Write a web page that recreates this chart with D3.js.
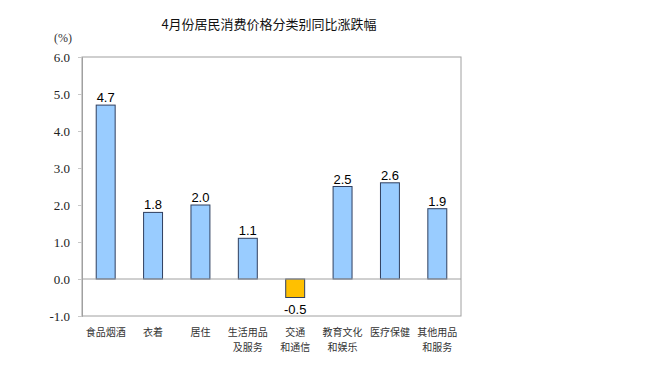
<!DOCTYPE html>
<html>
<head>
<meta charset="utf-8">
<script src="https://cdn.jsdelivr.net/npm/d3@7"></script>
<style>
  body { margin: 0; background: #fff; }
</style>
</head>
<body>
<div id="chart"></div>
<script>
// data
const categories = ["食品烟酒", "衣着", "居住", "生活用品\n及服务", "交通\n和通信", "教育文化\n和娱乐", "医疗保健", "其他用品\n和服务"];
const values = [4.7, 1.8, 2.0, 1.1, -0.5, 2.5, 2.6, 1.9];
const yTicks = [-1, 0, 1, 2, 3, 4, 5, 6];

const width = 652, height = 379;
const margin = { top: 57, right: 191, bottom: 63, left: 82 };

// plain hyphen for negatives, like the source
const fmt = d3.formatLocale({ decimal: ".", thousands: ",", grouping: [3], currency: ["", ""], minus: "-" }).format(".1f");

const svg = d3.select("#chart").append("svg")
    .attr("width", width)
    .attr("height", height);

// title
svg.append("text")
    .attr("x", 269)
    .attr("y", 29)
    .attr("text-anchor", "middle")
    .style("font-family", "'Noto Sans CJK SC', sans-serif")
    .style("font-size", "13px")
    .attr("fill", "#111")
    .text("4月份居民消费价格分类别同比涨跌幅");

// unit
svg.append("text")
    .attr("x", 63)
    .attr("y", 42)
    .attr("text-anchor", "middle")
    .style("font-family", "'Liberation Serif', 'DejaVu Serif', serif")
    .style("font-size", "12px")
    .attr("fill", "#333")
    .text("(%)");

const x = d3.scaleBand()
    .domain(categories)
    .range([margin.left, width - margin.right])
    .paddingInner(0.6)
    .paddingOuter(0.3);

const y = d3.scaleLinear()
    .domain([-1, 6])
    .range([height - margin.bottom, margin.top]);

// plot frame
svg.append("rect")
    .attr("x", margin.left)
    .attr("y", margin.top)
    .attr("width", width - margin.right - margin.left)
    .attr("height", height - margin.bottom - margin.top)
    .attr("fill", "none")
    .attr("stroke", "#a0a0a0");

// y axis
const yAxis = svg.append("g")
    .attr("transform", `translate(${margin.left},0)`)
    .call(d3.axisLeft(y).tickValues(yTicks).tickFormat(fmt).tickSize(4).tickPadding(8));
yAxis.select(".domain").attr("stroke", "#a0a0a0");
yAxis.selectAll(".tick line").attr("stroke", "#c8c8c8");
yAxis.selectAll(".tick text")
    .style("font-family", "'Liberation Serif', 'DejaVu Serif', serif")
    .style("font-size", "13px")
    .attr("fill", "#222");

// bars
svg.append("g")
    .selectAll("rect")
    .data(values)
    .join("rect")
    .attr("x", (d, i) => x(categories[i]))
    .attr("width", x.bandwidth())
    .attr("y", d => y(Math.max(0, d)))
    .attr("height", d => Math.abs(y(d) - y(0)))
    .attr("fill", d => d < 0 ? "#ffc000" : "#99ccff")
    .attr("stroke", "#2f3f5f")
    .attr("stroke-width", 1);

// zero line
svg.append("line")
    .attr("x1", margin.left)
    .attr("x2", width - margin.right)
    .attr("y1", y(0))
    .attr("y2", y(0))
    .attr("stroke", "#a0a0a0");

// value labels
svg.append("g")
    .selectAll("text")
    .data(values)
    .join("text")
    .attr("x", (d, i) => x(categories[i]) + x.bandwidth() / 2)
    .attr("y", d => d < 0 ? y(d) + 16 : y(d) - 3)
    .attr("text-anchor", "middle")
    .style("font-family", "'Liberation Sans', Arial, sans-serif")
    .style("font-size", "13px")
    .attr("fill", "#000")
    .text(d => fmt(d));

// category labels
const catLabels = svg.append("g")
    .selectAll("text")
    .data(categories)
    .join("text")
    .attr("x", d => x(d) + x.bandwidth() / 2)
    .attr("y", 336)
    .attr("text-anchor", "middle")
    .style("font-family", "'Noto Sans CJK SC', sans-serif")
    .style("font-size", "10px")
    .attr("fill", "#333");

catLabels.selectAll("tspan")
    .data(d => d.split("\n"))
    .join("tspan")
    .attr("x", function () { return d3.select(this.parentNode).attr("x"); })
    .attr("dy", (d, i) => i === 0 ? 0 : 15)
    .text(d => d);
</script>
</body>
</html>
